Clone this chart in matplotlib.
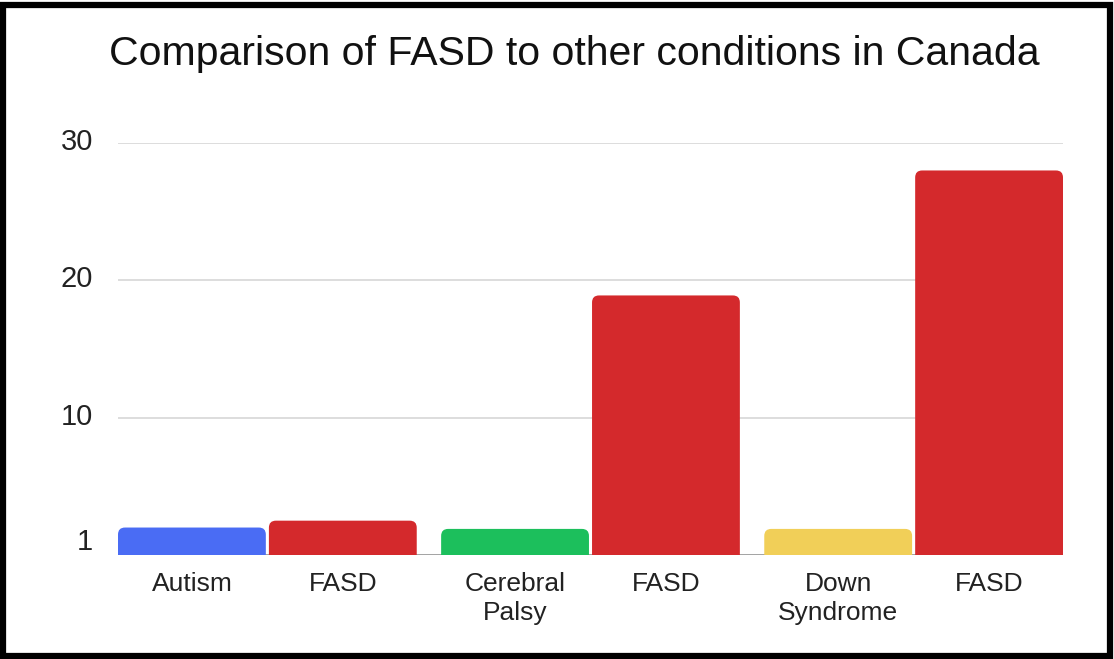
import matplotlib.pyplot as plt
from matplotlib.patches import FancyBboxPatch, Rectangle
import matplotlib.transforms as mtransforms

plt.rcParams["font.family"] = ["Liberation Sans", "DejaVu Sans"]

# data
groups = ["Autism", "Cerebral\nPalsy", "Down\nSyndrome"]
condition_values = [2.0, 1.9, 1.9]
fasd_values = [2.5, 18.9, 28.0]
condition_colors = ["#4a6cf4", "#1cbf5c", "#f1cf58"]
fasd_color = "#d4292c"
y_ticks = [0, 10, 20, 30]
y_tick_labels = ["1", "10", "20", "30"]

W, H = 1114, 659
fig = plt.figure(figsize=(W / 100, H / 100), dpi=100)

ax = fig.add_axes([118 / W, 1 - 555 / H, (1063 - 118) / W, (555 - 143) / H])

bar_w = 0.4575
offset = 0.2335
xs_cond = [i - offset for i in range(len(groups))]
xs_fasd = [i + offset for i in range(len(groups))]

bars1 = ax.bar(xs_cond, condition_values, width=bar_w, color=condition_colors, zorder=3)
bars2 = ax.bar(xs_fasd, fasd_values, width=bar_w, color=fasd_color, zorder=3)

ax.set_xlim(-offset - bar_w / 2, len(groups) - 1 + offset + bar_w / 2)
ax.set_ylim(0, 30)

# swap plain rectangles for ones with rounded top corners
fig.canvas.draw()
p0 = ax.transData.transform((0, 0))
p1 = ax.transData.transform((1, 1))
px_x = p1[0] - p0[0]
px_y = p1[1] - p0[1]
radius_px = 7
for b in list(bars1) + list(bars2):
    x, y = b.get_x(), b.get_y()
    w, h = b.get_width(), b.get_height()
    r = radius_px / px_x
    extra = 2 * radius_px / px_y
    rb = FancyBboxPatch((x, y - extra), w, h + extra,
                        boxstyle=f"round,pad=0,rounding_size={r}",
                        mutation_aspect=px_x / px_y,
                        facecolor=b.get_facecolor(), edgecolor="none", zorder=3)
    b.set_visible(False)
    ax.add_patch(rb)

# axes styling
for s in ax.spines.values():
    s.set_visible(False)
ax.set_yticks(y_ticks)
ax.set_yticklabels(y_tick_labels, fontsize=21, color="#222222")
ax.yaxis.grid(True, color="#dadada", linewidth=1.3, zorder=0)
ax.axhline(0, color="#9a9a9a", linewidth=1.2, zorder=2)
ax.tick_params(axis="y", length=0, pad=18)
for lbl in ax.get_yticklabels():
    dy = 16 if lbl.get_text() == "1" else 4
    lbl.set_transform(lbl.get_transform() + mtransforms.ScaledTranslation(0, dy / 100, fig.dpi_scale_trans))

ax.set_xticks(xs_cond + xs_fasd)
ax.set_xticklabels(groups + ["FASD"] * len(groups), fontsize=19, color="#222222",
                   linespacing=1.28, va="top")
ax.tick_params(axis="x", length=0, pad=12)

fig.text(574 / W, 1 - 65 / H, "Comparison of FASD to other conditions in Canada",
         ha="center", va="baseline", fontsize=29.5, color="#111111")

# black frame round the whole picture
fig.patches.append(Rectangle((3 / W, 3 / H), 1 - 7 / W, 1 - 8 / H, transform=fig.transFigure,
                             fill=False, edgecolor="black", linewidth=4.5))

fig.savefig("out.png", dpi=100, facecolor="white")
